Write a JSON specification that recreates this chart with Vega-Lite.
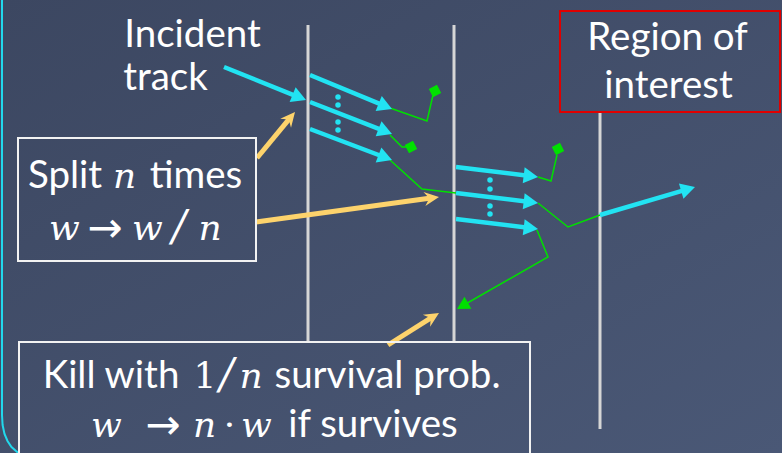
{
  "$schema": "https://vega.github.io/schema/vega-lite/v6.json",
  "width": 782,
  "height": 453,
  "padding": 0,
  "autosize": {"type": "none"},
  "background": "#434f6b",
  "config": {"view": {"stroke": null}},
  "datasets": {
    "vlines": [
      {"x": 308, "y": 25, "y2": 342},
      {"x": 454, "y": 25, "y2": 342},
      {"x": 600, "y": 112, "y2": 429}
    ],
    "boxes": [
      {"name": "split", "x": 18, "x2": 256, "y": 138, "y2": 261},
      {"name": "kill", "x": 19, "x2": 530, "y": 342, "y2": 470},
      {"name": "roi", "x": 560, "x2": 780, "y": 11, "y2": 112}
    ],
    "paths": [
      {"kind": "cyan", "id": "a1", "o": 0, "x": 224, "y": 67},
      {"kind": "cyan", "id": "a1", "o": 1, "x": 296.7, "y": 96.3},
      {"kind": "cyan", "id": "a2", "o": 0, "x": 310, "y": 75},
      {"kind": "cyan", "id": "a2", "o": 1, "x": 382.8, "y": 105.2},
      {"kind": "cyan", "id": "a3", "o": 0, "x": 310, "y": 102},
      {"kind": "cyan", "id": "a3", "o": 1, "x": 382.7, "y": 130.4},
      {"kind": "cyan", "id": "a4", "o": 0, "x": 310, "y": 129},
      {"kind": "cyan", "id": "a4", "o": 1, "x": 382.6, "y": 156.5},
      {"kind": "cyan", "id": "b1", "o": 0, "x": 456, "y": 167},
      {"kind": "cyan", "id": "b1", "o": 1, "x": 528.1, "y": 175.8},
      {"kind": "cyan", "id": "b2", "o": 0, "x": 456, "y": 193},
      {"kind": "cyan", "id": "b2", "o": 1, "x": 528.1, "y": 201.8},
      {"kind": "cyan", "id": "b3", "o": 0, "x": 456, "y": 219},
      {"kind": "cyan", "id": "b3", "o": 1, "x": 528.1, "y": 227.8},
      {"kind": "cyan", "id": "ex", "o": 0, "x": 600, "y": 215},
      {"kind": "cyan", "id": "ex", "o": 1, "x": 685.4, "y": 189.8},
      {"kind": "yellow", "id": "y1", "o": 0, "x": 257, "y": 158},
      {"kind": "yellow", "id": "y1", "o": 1, "x": 289.9, "y": 118.2},
      {"kind": "yellow", "id": "y2", "o": 0, "x": 256, "y": 222},
      {"kind": "yellow", "id": "y2", "o": 1, "x": 431.1, "y": 198.1},
      {"kind": "yellow", "id": "y3", "o": 0, "x": 388, "y": 345},
      {"kind": "yellow", "id": "y3", "o": 1, "x": 432.2, "y": 317.2},
      {"kind": "green", "id": "g1", "o": 0, "x": 390, "y": 108},
      {"kind": "green", "id": "g1", "o": 1, "x": 427, "y": 121},
      {"kind": "green", "id": "g1", "o": 2, "x": 433, "y": 95},
      {"kind": "green", "id": "g2", "o": 0, "x": 390, "y": 135},
      {"kind": "green", "id": "g2", "o": 1, "x": 402, "y": 147},
      {"kind": "green", "id": "g2", "o": 2, "x": 408, "y": 147},
      {"kind": "green", "id": "g3", "o": 0, "x": 390, "y": 160},
      {"kind": "green", "id": "g3", "o": 1, "x": 422, "y": 189},
      {"kind": "green", "id": "g3", "o": 2, "x": 456, "y": 193},
      {"kind": "green", "id": "g4", "o": 0, "x": 538, "y": 177},
      {"kind": "green", "id": "g4", "o": 1, "x": 551, "y": 181},
      {"kind": "green", "id": "g4", "o": 2, "x": 557, "y": 155},
      {"kind": "green", "id": "g5", "o": 0, "x": 538, "y": 203},
      {"kind": "green", "id": "g5", "o": 1, "x": 568, "y": 227},
      {"kind": "green", "id": "g5", "o": 2, "x": 600, "y": 215},
      {"kind": "green", "id": "g6", "o": 0, "x": 537, "y": 230},
      {"kind": "green", "id": "g6", "o": 1, "x": 548, "y": 257},
      {"kind": "green", "id": "g6", "o": 2, "x": 463.9, "y": 305},
      {"kind": "border", "id": "bd", "o": 0, "x": 2, "y": -5},
      {"kind": "border", "id": "bd", "o": 1, "x": 2, "y": 415},
      {"kind": "border", "id": "bd", "o": 2, "x": 2.6, "y": 425},
      {"kind": "border", "id": "bd", "o": 3, "x": 4.5, "y": 434},
      {"kind": "border", "id": "bd", "o": 4, "x": 7.5, "y": 441},
      {"kind": "border", "id": "bd", "o": 5, "x": 11.5, "y": 447},
      {"kind": "border", "id": "bd", "o": 6, "x": 16, "y": 451},
      {"kind": "border", "id": "bd", "o": 7, "x": 21, "y": 455}
    ],
    "heads": [
      {"kind": "cyan", "x": 306, "y": 100, "a": 111.9},
      {"kind": "cyan", "x": 392, "y": 109, "a": 112.5},
      {"kind": "cyan", "x": 392, "y": 134, "a": 111.3},
      {"kind": "cyan", "x": 392, "y": 160, "a": 110.7},
      {"kind": "cyan", "x": 538, "y": 177, "a": 97},
      {"kind": "cyan", "x": 538, "y": 203, "a": 97},
      {"kind": "cyan", "x": 538, "y": 229, "a": 97},
      {"kind": "cyan", "x": 695, "y": 187, "a": 73.6},
      {"kind": "yellow", "x": 295, "y": 112, "a": 39.6},
      {"kind": "yellow", "x": 439, "y": 197, "a": 82.2},
      {"kind": "yellow", "x": 439, "y": 313, "a": 58.5},
      {"kind": "green", "x": 457, "y": 309, "a": -119.7}
    ],
    "diamonds": [
      {"x": 435, "y": 91},
      {"x": 411, "y": 147},
      {"x": 558, "y": 149}
    ],
    "dots": [
      {"x": 338, "y": 97}, {"x": 338, "y": 105}, {"x": 338, "y": 122}, {"x": 338, "y": 130},
      {"x": 490, "y": 180}, {"x": 490, "y": 189}, {"x": 490, "y": 206}, {"x": 490, "y": 214}
    ],
    "sans": [
      {"t": "Incident", "x": 192.5, "y": 47},
      {"t": "track", "x": 165.5, "y": 90},
      {"t": "Region of", "x": 667.5, "y": 50},
      {"t": "interest", "x": 668.5, "y": 98},
      {"t": "Split", "x": 65, "y": 188},
      {"t": "times", "x": 196, "y": 188},
      {"t": "Kill with", "x": 111, "y": 388},
      {"t": "survival prob.", "x": 387.5, "y": 388},
      {"t": "if survives", "x": 373, "y": 437}
    ],
    "mathit": [
      {"t": "n", "x": 124.5, "y": 188},
      {"t": "w", "x": 64.5, "y": 240},
      {"t": "w", "x": 147.5, "y": 240},
      {"t": "n", "x": 210, "y": 240},
      {"t": "n", "x": 251, "y": 388},
      {"t": "w", "x": 106.5, "y": 437},
      {"t": "n", "x": 204.5, "y": 437},
      {"t": "w", "x": 256.5, "y": 437}
    ],
    "mathrm": [
      {"sym": "arrow", "t": "→", "x": 105, "y": 242},
      {"sym": "slash", "t": "/", "x": 179, "y": 240},
      {"sym": "digit", "t": "1", "x": 205, "y": 388},
      {"sym": "slash", "t": "/", "x": 226.5, "y": 388},
      {"sym": "arrow", "t": "→", "x": 163, "y": 439},
      {"sym": "digit", "t": "·", "x": 229.5, "y": 437}
    ]
  },
  "encoding": {
    "x": {"field": "x", "type": "quantitative", "axis": null, "scale": {"domain": [0, 782], "nice": false, "zero": false}},
    "y": {"field": "y", "type": "quantitative", "axis": null, "scale": {"domain": [0, 453], "nice": false, "zero": false, "reverse": true}}
  },
  "layer": [
    {
      "data": {"values": [{"x": 0, "x2": 782, "y": 0, "y2": 453}]},
      "mark": {"type": "rect", "color": {"gradient": "linear", "x1": 0, "y1": 0, "x2": 1, "y2": 1, "stops": [{"offset": 0, "color": "#3c4761"}, {"offset": 1, "color": "#4a5876"}]}},
      "encoding": {"x2": {"field": "x2"}, "y2": {"field": "y2"}}
    },
    {
      "data": {"name": "vlines"},
      "mark": {"type": "rule", "color": "#d6d6d6", "strokeWidth": 3},
      "encoding": {"y2": {"field": "y2"}}
    },
    {
      "data": {"name": "paths"},
      "transform": [{"filter": "datum.kind === 'green'"}],
      "mark": {"type": "line", "color": "#00e000", "strokeWidth": 1.5, "strokeJoin": "miter"},
      "encoding": {"detail": {"field": "id"}, "order": {"field": "o"}}
    },
    {
      "data": {"name": "paths"},
      "transform": [{"filter": "datum.kind === 'border'"}],
      "mark": {"type": "line", "color": "#22d8ec", "strokeWidth": 2},
      "encoding": {"detail": {"field": "id"}, "order": {"field": "o"}}
    },
    {
      "data": {"name": "paths"},
      "transform": [{"filter": "datum.kind === 'cyan'"}],
      "mark": {"type": "line", "color": "#22e3f2", "strokeWidth": 4.5},
      "encoding": {"detail": {"field": "id"}, "order": {"field": "o"}}
    },
    {
      "data": {"name": "paths"},
      "transform": [{"filter": "datum.kind === 'yellow'"}],
      "mark": {"type": "line", "color": "#fdd36c", "strokeWidth": 5},
      "encoding": {"detail": {"field": "id"}, "order": {"field": "o"}}
    },
    {
      "data": {"name": "heads"},
      "transform": [{"filter": "datum.kind === 'cyan'"}],
      "mark": {"type": "point", "shape": "M0,0L-1,1.8L1,1.8Z", "filled": true, "color": "#22e3f2", "size": 256, "opacity": 1},
      "encoding": {"angle": {"field": "a", "type": "quantitative", "scale": null}}
    },
    {
      "data": {"name": "heads"},
      "transform": [{"filter": "datum.kind === 'yellow'"}],
      "mark": {"type": "point", "shape": "M0,0L-1,2.1L0,1.4L1,2.1Z", "filled": true, "color": "#fdd36c", "size": 196, "opacity": 1},
      "encoding": {"angle": {"field": "a", "type": "quantitative", "scale": null}}
    },
    {
      "data": {"name": "heads"},
      "transform": [{"filter": "datum.kind === 'green'"}],
      "mark": {"type": "point", "shape": "M0,0L-1,1.8L1,1.8Z", "filled": true, "color": "#00e000", "size": 196, "opacity": 1},
      "encoding": {"angle": {"field": "a", "type": "quantitative", "scale": null}}
    },
    {
      "data": {"name": "diamonds"},
      "mark": {"type": "point", "shape": "diamond", "filled": true, "color": "#00e000", "size": 170, "opacity": 1, "angle": 18}
    },
    {
      "data": {"name": "dots"},
      "mark": {"type": "point", "shape": "circle", "filled": true, "color": "#22e3f2", "size": 30, "opacity": 1}
    },
    {
      "data": {"name": "boxes"},
      "mark": {"type": "rect", "fill": "#000000", "fillOpacity": 0, "strokeWidth": 2, "clip": true},
      "encoding": {
        "x2": {"field": "x2"},
        "y2": {"field": "y2"},
        "stroke": {"field": "name", "type": "nominal", "scale": {"domain": ["split", "kill", "roi"], "range": ["#f2f2f2", "#f2f2f2", "#e00000"]}, "legend": null}
      }
    },
    {
      "data": {"name": "sans"},
      "mark": {"type": "text", "font": "Lato", "fontSize": 38.5, "color": "#ffffff", "align": "center", "baseline": "alphabetic"},
      "encoding": {"text": {"field": "t"}}
    },
    {
      "data": {"name": "mathit"},
      "mark": {"type": "text", "font": "DejaVu Serif", "fontStyle": "italic", "fontSize": 36, "color": "#ffffff", "align": "center", "baseline": "alphabetic"},
      "encoding": {"text": {"field": "t"}}
    },
    {
      "data": {"name": "mathrm"},
      "transform": [{"filter": "datum.sym === 'digit'"}],
      "mark": {"type": "text", "font": "DejaVu Serif", "fontSize": 36, "color": "#ffffff", "align": "center", "baseline": "alphabetic"},
      "encoding": {"text": {"field": "t"}}
    },
    {
      "data": {"name": "mathrm"},
      "transform": [{"filter": "datum.sym === 'slash'"}],
      "mark": {"type": "text", "font": "DejaVu Serif", "fontStyle": "italic", "fontSize": 42, "color": "#ffffff", "align": "center", "baseline": "alphabetic"},
      "encoding": {"text": {"field": "t"}}
    },
    {
      "data": {"name": "mathrm"},
      "transform": [{"filter": "datum.sym === 'arrow'"}],
      "mark": {"type": "text", "font": "DejaVu Sans", "fontSize": 42, "color": "#ffffff", "align": "center", "baseline": "alphabetic"},
      "encoding": {"text": {"field": "t"}}
    }
  ]
}
